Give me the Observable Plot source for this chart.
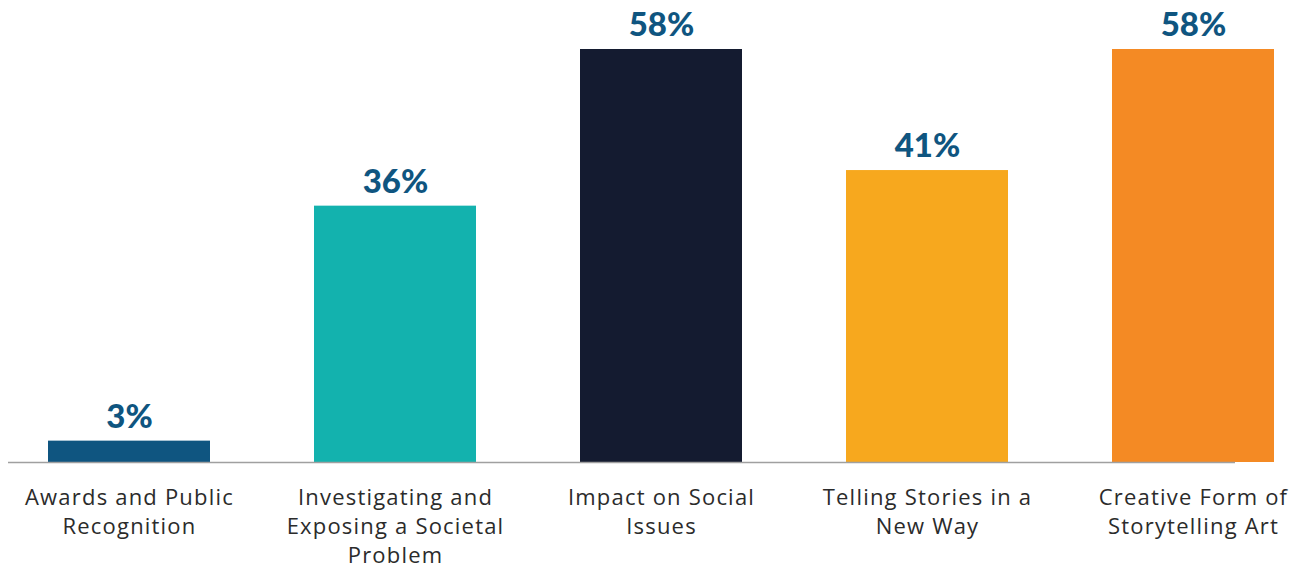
<!DOCTYPE html>
<html>
<head>
<meta charset="utf-8">
<script src="https://cdn.jsdelivr.net/npm/d3@7"></script>
<script src="https://cdn.jsdelivr.net/npm/@observablehq/plot@0.6"></script>
<style>
  html, body { margin: 0; padding: 0; background: #fff; }
  g[aria-label="x-axis tick label"] text { letter-spacing: 1.2px; }
</style>
</head>
<body>
<div id="chart"></div>
<script>
const categories = [
  "Awards and Public Recognition",
  "Investigating and Exposing a Societal Problem",
  "Impact on Social Issues",
  "Telling Stories in a New Way",
  "Creative Form of Storytelling Art"
];
const tickLabels = [
  "Awards and Public\nRecognition",
  "Investigating and\nExposing a Societal\nProblem",
  "Impact on Social\nIssues",
  "Telling Stories in a\nNew Way",
  "Creative Form of\nStorytelling Art"
];
const values = [3, 36, 58, 41, 58];
const colors = ["#0f5580", "#13b2ae", "#141b30", "#f7a81e", "#f48a24"];

const data = categories.map((c, i) => ({category: c, value: values[i], color: colors[i]}));
const labelOf = new Map(categories.map((c, i) => [c, tickLabels[i]]));

const chart = Plot.plot({
  width: 1304,
  height: 569,
  marginLeft: 48,
  marginRight: 30,
  marginTop: 49,
  marginBottom: 107,
  style: {fontFamily: "Lato, sans-serif", background: "#fff"},
  x: {domain: categories, paddingInner: 0.391, paddingOuter: 0, round: false},
  y: {domain: [0, 58], axis: null},
  marks: [
    Plot.barY(data, {x: "category", y: "value", fill: "color"}),
    Plot.ruleY([0], {stroke: "#a0a0a0", strokeWidth: 1.5, insetLeft: -40, insetRight: 39}),
    Plot.text(data, {
      x: "category", y: "value", text: d => d.value + "%",
      dy: -24, fill: "#0f5580", fontSize: 33, fontWeight: 900,
      fontFamily: "Lato, sans-serif"
    }),
    Plot.axisX({
      tickSize: 0, tickPadding: 22, fontSize: 22, lineHeight: 1.32,
      tickFormat: d => labelOf.get(d), fill: "#2b2b2b", label: null,
      fontFamily: "'Open Sans', sans-serif", fontWeight: 400
    })
  ]
});
document.getElementById("chart").appendChild(chart);
</script>
</body>
</html>
